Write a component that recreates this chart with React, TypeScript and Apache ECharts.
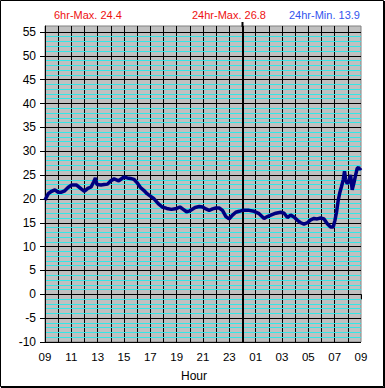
import React, { useEffect, useRef } from 'react';
import * as echarts from 'echarts';

// hours elapsed since 09:00
const hours = [
  0.0, 0.1, 0.25, 0.5, 0.75, 1.0, 1.25, 1.5, 1.75, 2.0, 2.4, 2.75, 3.0, 3.25, 3.5, 3.7, 3.83, 3.95,
  4.25, 4.5, 4.75, 5.0, 5.25, 5.6, 6.0, 6.25, 6.5, 6.75, 7.0, 7.25, 7.5, 7.75, 8.0, 8.25, 8.6, 8.9,
  9.25, 9.6, 10.0, 10.25, 10.5, 10.75, 11.0, 11.4, 11.72, 11.97, 12.22, 12.47, 12.73, 12.98, 13.23,
  13.48, 13.74, 13.99, 14.24, 14.49, 14.75, 15.0, 15.5, 15.88, 16.26, 16.64, 16.89, 17.15, 17.53,
  17.9, 18.16, 18.41, 18.66, 18.91, 19.17, 19.42, 19.67, 19.92, 20.18, 20.43, 20.68, 20.93, 21.19,
  21.44, 21.69, 21.89, 22.02, 22.14, 22.27, 22.4, 22.52, 22.65, 22.75, 22.83, 22.95, 23.08, 23.21,
  23.33, 23.46, 23.59, 23.71, 23.81, 23.9, 24.0,
];
const temps = [
  19.8, 20.3, 21.1, 21.6, 21.9, 21.4, 21.4, 21.7, 22.4, 22.9, 22.9, 22.1, 21.6, 22.2, 22.5, 23.6, 24.4, 23.0,
  22.9, 23.0, 23.1, 23.8, 24.2, 23.8, 24.6, 24.4, 24.3, 24.1, 23.4, 22.4, 21.8, 21.1, 20.6, 20.1, 19.0, 18.3,
  18.0, 17.8, 18.0, 18.3, 17.8, 17.3, 17.5, 18.2, 18.4, 18.3, 17.9, 17.6, 17.9, 18.1, 18.1,
  17.6, 16.3, 15.8, 16.6, 17.2, 17.4, 17.6, 17.6, 17.4, 16.9, 15.9, 16.3, 16.6, 17.0,
  17.2, 17.0, 16.1, 16.6, 16.2, 15.5, 15.0, 14.7, 15.0, 15.6, 15.9, 15.8, 16.0, 15.8,
  14.8, 14.1, 14.1, 15.5, 17.2, 19.7, 21.4, 22.6, 24.0, 25.8, 24.1, 23.2, 23.6, 25.0,
  21.9, 23.3, 25.0, 26.4, 26.6, 26.2, 26.5,
];
const hourLabels = ['09', '11', '13', '15', '17', '19', '21', '23', '01', '03', '05', '07', '09'];
const titles = ['6hr-Max. 24.4', '24hr-Max. 26.8', '24hr-Min. 13.9'];
const midnightHour = 15;

export default function App() {
  const ref = useRef<HTMLDivElement>(null);
  useEffect(() => {
    document.body.style.margin = '0';
    const chart = echarts.init(ref.current!, null, { renderer: 'svg' });
    const L = 45, R = 24, T = 26, B = 46;
    const W = 385 - L - R;
    const font = 'Liberation Sans, Arial, sans-serif';
    const yMin = -10, yMax = 56.25;
    const minorColors: string[] = [];
    for (let v = yMin; v <= 56; v++) {
      minorColors.push(v % 5 === 0 || v >= 55 ? 'rgba(0,0,0,0)' : '#33e6e6');
    }
    const midX = L + (midnightHour / 24) * W;
    chart.setOption({
      animation: false,
      backgroundColor: '#ffffff',
      grid: {
        left: L, right: R, top: T, bottom: B, show: true,
        backgroundColor: '#c0c0c0', borderColor: '#808080', borderWidth: 1,
      },
      xAxis: {
        type: 'value', min: 0, max: 24, interval: 1,
        axisLine: { lineStyle: { color: '#000', width: 1 } },
        axisTick: { show: true, length: 5, lineStyle: { color: '#000' } },
        axisLabel: {
          color: '#000', fontSize: 11.5, fontFamily: font, margin: 9,
          formatter: (v: number) => (v % 2 === 0 ? hourLabels[v / 2] : ''),
        },
        splitLine: { show: true, showMaxLine: false, lineStyle: { color: '#000', width: 1 } },
      },
      yAxis: [
        {
          type: 'value', min: yMin, max: yMax, interval: 5,
          axisLine: { show: true, lineStyle: { color: '#000' } },
          axisTick: { show: true, length: 5, lineStyle: { color: '#000' } },
          axisLabel: { color: '#000', fontSize: 12, fontFamily: font, margin: 9, showMaxLabel: false },
          splitLine: { show: true, showMaxLine: false, lineStyle: { color: '#000', width: 1 } },
          z: 3,
        },
        {
          type: 'value', min: yMin, max: yMax, interval: 1, position: 'left',
          axisLine: { show: false }, axisTick: { show: false }, axisLabel: { show: false },
          splitLine: { show: true, showMaxLine: false, lineStyle: { color: minorColors, width: 1 } },
          z: 1,
        },
      ],
      series: [
        {
          type: 'line', data: hours.map((h, i) => [h, temps[i]]), showSymbol: false,
          lineStyle: { color: '#000080', width: 3.5 }, itemStyle: { color: '#000080' }, z: 5,
          markLine: {
            silent: true, symbol: 'none', label: { show: false },
            lineStyle: { color: '#000', width: 2, type: 'solid' },
            data: [{ xAxis: midnightHour }],
          },
        },
      ],
      graphic: [
        { type: 'rect', shape: { x: 0.5, y: 0.5, width: 383, height: 386 }, style: { fill: 'none', stroke: '#000', lineWidth: 1 } },
        { type: 'line', shape: { x1: 384.5, y1: 1, x2: 384.5, y2: 388 }, style: { stroke: '#000', lineWidth: 1 } },
        { type: 'line', shape: { x1: 1, y1: 387.5, x2: 385, y2: 387.5 }, style: { stroke: '#000', lineWidth: 1 } },
        { type: 'line', shape: { x1: midX, y1: 22, x2: midX, y2: T + 1 }, style: { stroke: '#000', lineWidth: 2 } },
        { type: 'text', style: { text: titles[0], x: 54, y: 15, fill: '#ee1111', fontSize: 11, fontFamily: font, textVerticalAlign: 'middle' } },
        { type: 'text', style: { text: titles[1], x: 192, y: 15, fill: '#ee1111', fontSize: 11, fontFamily: font, textVerticalAlign: 'middle' } },
        { type: 'text', style: { text: titles[2], x: 289, y: 15, fill: '#3355ee', fontSize: 11, fontFamily: font, textVerticalAlign: 'middle' } },
        { type: 'text', style: { text: 'Hour', x: 194, y: 376, fill: '#000', fontSize: 12, fontFamily: font, textAlign: 'center', textVerticalAlign: 'middle' } },
      ],
    });
    return () => chart.dispose();
  }, []);
  return <div ref={ref} style={{ width: 385, height: 388 }} />;
}
